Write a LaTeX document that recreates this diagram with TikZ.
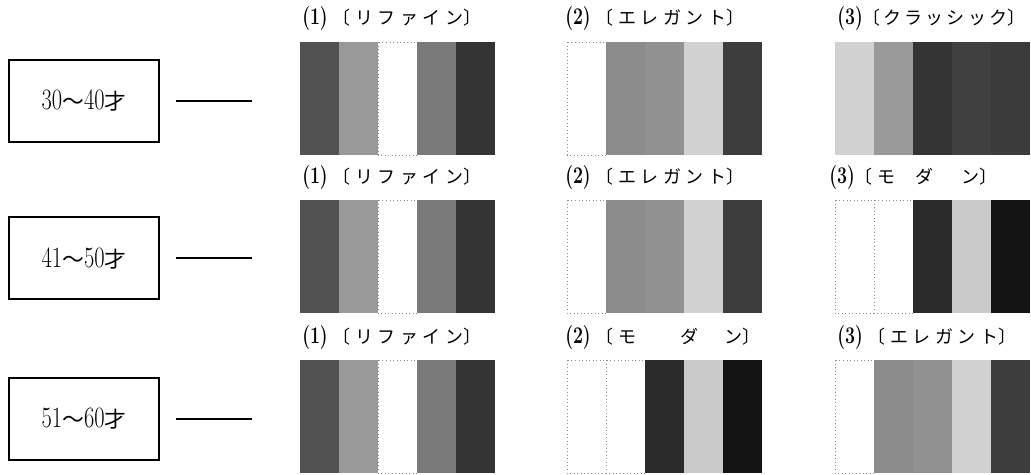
\documentclass[tikz,border=0pt]{standalone}
\usepackage{fontspec}
\newfontfamily\jp[LetterSpace=25]{Noto Sans CJK JP}
\newfontfamily\jpc[LetterSpace=17]{Noto Sans CJK JP}
\newfontfamily\jpbox{Noto Sans CJK JP}
\usetikzlibrary{positioning}

\tikzset{
  agebox/.style={draw, line width=1.2pt, minimum width=3.75cm, minimum height=2.05cm,
    inner sep=0pt, font=\fontsize{15.5}{18}\selectfont},
  stylelbl/.style={anchor=west, inner sep=0pt, font=\fontsize{12.8}{14}\selectfont},
  dashline/.style={line width=1pt},
  whiteedge/.style={draw=black!45, dotted, line width=0.5pt},
}

% narrow digits as in the print
\newcommand{\agenum}[1]{{\fontsize{21}{22}\selectfont\scalebox{0.76}[1]{#1}}}
\newcommand{\lblnum}[1]{{\fontsize{17}{18}\selectfont\scalebox{0.74}[1]{\bfseries #1}}}

% one colour sample: left x, top y, list macro of grey shares (black!n)
\newcommand{\swatch}[3]{%
  \foreach \g [count=\i from 0] in #3{%
    \fill[black!\g] (#1+\i*39,#2) rectangle ++(39,113);
    \ifnum\g=0 \draw[whiteedge] (#1+\i*39,#2) rectangle ++(39,113);\fi
  }}
\newcommand{\refine}{68,40,0,52,80}
\newcommand{\elegant}{0,45,43,18,76}
\newcommand{\classic}{18,40,80,75,77}
\newcommand{\modern}{0,0,83,21,92}

\begin{document}
\begin{tikzpicture}[x=0.025cm, y=-0.025cm]
\useasboundingbox (0,0) rectangle (1031,474);

% age groups
\node[agebox] (age1) at (84,101) {\agenum{30}{\jpbox ～}\agenum{40}{\jpbox 才}};
\node[agebox] (age2) at (84,258) {\agenum{41}{\jpbox ～}\agenum{50}{\jpbox 才}};
\node[agebox] (age3) at (84,419) {\agenum{51}{\jpbox ～}\agenum{60}{\jpbox 才}};
\draw[dashline] ([xshift=0.4cm]age1.east) -- ++(1.9cm,0);
\draw[dashline] ([xshift=0.4cm]age2.east) -- ++(1.9cm,0);
\draw[dashline] ([xshift=0.4cm]age3.east) -- ++(1.9cm,0);

% row 30-40
\node[stylelbl] (l11) at (302,19) {\lblnum{(1)}\hspace{0.12cm}{\jp〔リファイン}{\jpbox〕}};
\node[stylelbl] (l12) at (565,19) {\lblnum{(2)}\hspace{0.12cm}{\jp〔エレガント}{\jpbox〕}};
\node[stylelbl] (l13) at (837,19) {\lblnum{(3)}{\jpc〔クラッシック}{\jpbox〕}};
\swatch{300}{42}{\refine}
\swatch{567}{42}{\elegant}
\swatch{835}{42}{\classic}

% row 41-50
\node[stylelbl] (l21) at (302,178) {\lblnum{(1)}\hspace{0.12cm}{\jp〔リファイン}{\jpbox〕}};
\node[stylelbl] (l22) at (565,178) {\lblnum{(2)}\hspace{0.12cm}{\jp〔エレガント}{\jpbox〕}};
\node[stylelbl] (l23) at (829,178) {\lblnum{(3)}{\jp〔モ\hspace{0.5cm}ダ\hspace{0.7cm}ン}{\jpbox〕}};
\swatch{300}{200}{\refine}
\swatch{567}{200}{\elegant}
\swatch{835}{200}{\modern}

% row 51-60
\node[stylelbl] (l31) at (302,338) {\lblnum{(1)}\hspace{0.12cm}{\jp〔リファイン}{\jpbox〕}};
\node[stylelbl] (l32) at (565,338) {\lblnum{(2)}\hspace{0.12cm}{\jp〔モ\hspace{1.1cm}ダ\hspace{0.65cm}ン}{\jpbox〕}};
\node[stylelbl] (l33) at (837,338) {\lblnum{(3)}\hspace{0.12cm}{\jp〔エレガント}{\jpbox〕}};
\swatch{300}{360}{\refine}
\swatch{567}{360}{\modern}
\swatch{835}{360}{\elegant}
\end{tikzpicture}
\end{document}
